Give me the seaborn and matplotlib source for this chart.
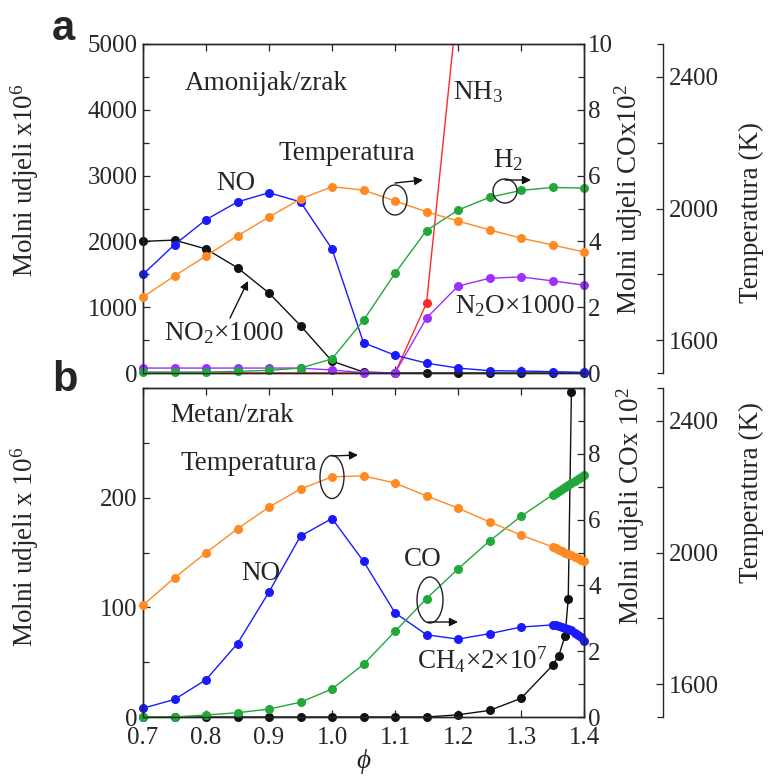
"""Ammonia/air vs methane/air flame: species and temperature vs equivalence ratio."""
import matplotlib.pyplot as plt
import matplotlib.ticker as mticker
from matplotlib.patches import Ellipse, FancyArrowPatch
import seaborn as sns

W, H = 768, 776

# ---- panel a: Amonijak/zrak ----
PHI_A = [0.70, 0.75, 0.80, 0.85, 0.90, 0.95, 1.00, 1.05, 1.10, 1.15, 1.20, 1.25, 1.30, 1.35, 1.40]
A_NO = [1500, 1950, 2330, 2600, 2740, 2600, 1885, 460, 270, 150, 75, 35, 30, 20, 10]
A_NO2 = [2000, 2020, 1885, 1600, 1215, 720, 180, 15, 0, 0, 0, 0, 0, 0, 0]
A_N2O = [75, 75, 75, 75, 75, 75, 45, 5, 0, 835, 1320, 1440, 1460, 1400, 1335]
A_NH3 = [0, 0, 0, 0, 0, 0, 0, 0, 0, 1060, 5700, 10000, 14000, 18000, 22000]
A_H2 = [0.03, 0.03, 0.03, 0.05, 0.08, 0.15, 0.43, 1.6, 3.03, 4.33, 4.95, 5.34, 5.55, 5.64, 5.62]
A_TEMP = [1731, 1795, 1856, 1917, 1974, 2029, 2066, 2056, 2023, 1990, 1962, 1935, 1910, 1889, 1868]

# ---- panel b: Metan/zrak ----
PHI_B = [0.70, 0.75, 0.80, 0.85, 0.90, 0.95, 1.00, 1.05, 1.10, 1.15, 1.20, 1.25, 1.30, 1.35,
         1.355, 1.36, 1.365, 1.37, 1.375, 1.38, 1.385, 1.39, 1.395, 1.40]
B_NO = [8, 16, 34, 67, 114, 165, 181, 142, 95, 75, 71, 76, 82, 84,
        84, 83, 82, 81, 80, 79, 77, 75, 73, 69]
B_CO = [0.0, 0.0, 0.06, 0.13, 0.24, 0.45, 0.85, 1.6, 2.6, 3.6, 4.5, 5.35, 6.1, 6.75,
        6.81, 6.87, 6.93, 6.99, 7.05, 7.11, 7.17, 7.23, 7.30, 7.36]
B_TEMP = [1840, 1923, 1999, 2072, 2138, 2193, 2230, 2233, 2211, 2172, 2135, 2093, 2053, 2017,
          2013, 2009, 2005, 2000, 1996, 1992, 1987, 1983, 1978, 1974]
PHI_B_CH4 = [0.70, 0.75, 0.80, 0.85, 0.90, 0.95, 1.00, 1.05, 1.10, 1.15, 1.20, 1.25, 1.30, 1.35,
             1.36, 1.37, 1.375, 1.38]
B_CH4 = [0, 0, 0, 0, 0, 0, 0, 0, 0, 0, 2, 6, 17, 47, 56, 74, 108, 296]

XTICKS = [0.7, 0.8, 0.9, 1.0, 1.1, 1.2, 1.3, 1.4]
A_YTICKS = [0, 1000, 2000, 3000, 4000, 5000]
B_YTICKS = [0, 100, 200]

BLUE, ORANGE, GREEN = "#1a1aff", "#ff8a22", "#22a83a"
PURPLE, RED, BLACK = "#9b30ff", "#ff2a2a", "#111111"

sns.set_theme(style="ticks")
plt.rcParams["font.family"] = ["Liberation Serif", "DejaVu Serif"]
plt.rcParams["mathtext.fontset"] = "custom"
plt.rcParams["mathtext.rm"] = "Liberation Serif"
plt.rcParams["mathtext.it"] = "Liberation Serif:italic"
plt.rcParams["axes.linewidth"] = 1.0

FS = 19.5
TFS = 18


def fxy(x, y):
    return x / W, 1 - y / H


def series(ax, x, y, color, clip=False):
    sns.lineplot(x=x, y=y, ax=ax, color=color, marker="o", markersize=6.5,
                 markeredgewidth=0, linewidth=1.0, legend=False, clip_on=clip)


def style_axes(ax, ymax, yticks, yminor, show_x):
    ax.set_xlim(0.7, 1.4)
    ax.set_ylim(0, ymax)
    ax.set_xticks(XTICKS)
    ax.xaxis.set_major_formatter(mticker.FormatStrFormatter("%.1f"))
    ax.set_yticks(yticks)
    ax.yaxis.set_minor_locator(mticker.MultipleLocator(yminor))
    ax.tick_params(which="both", direction="in", top=True, right=False, width=0.9,
                   labelsize=TFS, pad=4, labelbottom=show_x)
    ax.tick_params(axis="x", pad=7)
    ax.tick_params(which="major", length=5)
    ax.tick_params(which="minor", length=4)
    ax.set_xlabel("")


def co_axis(ax, show_ten):
    co = ax.twinx()
    co.set_ylim(0, 10)
    ticks = [0, 2, 4, 6, 8, 10] if show_ten else [0, 2, 4, 6, 8]
    co.set_yticks(ticks)
    co.yaxis.set_minor_locator(mticker.MultipleLocator(1))
    co.tick_params(which="both", direction="in", width=0.9, labelsize=TFS, pad=3)
    co.tick_params(which="major", length=5)
    co.tick_params(which="minor", length=4)
    return co


def temp_axis(ax):
    t = ax.twinx()
    t.spines["right"].set_position(("axes", 1.179))
    for side in ("left", "top", "bottom"):
        t.spines[side].set_visible(False)
    t.set_ylim(1500, 2500)
    t.set_yticks([1600, 2000, 2400])
    t.set_yticks([1500, 1800, 2200, 2500], minor=True)
    t.tick_params(which="both", direction="in", width=0.9, labelsize=TFS, pad=4)
    t.tick_params(which="major", length=5)
    t.tick_params(which="minor", length=4)
    return t


def ylabels(ax, co, t, left_txt, co_txt, pos):
    (lx, ly), (cx, cy), (tx, ty) = pos
    ax.set_ylabel(left_txt, fontsize=FS, va="center", ha="center", rotation_mode="anchor")
    ax.yaxis.set_label_coords(lx, ly)
    co.set_ylabel(co_txt, fontsize=FS, va="center", ha="center", rotation_mode="anchor")
    co.yaxis.set_label_coords(cx, cy)
    t.set_ylabel("Temperatura (K)", fontsize=FS, va="center", ha="center", rotation_mode="anchor")
    t.yaxis.set_label_coords(tx, ty)


def ftext(fig, x, y, s, ha="center", size=FS, **kw):
    fig.text(*fxy(x, y), s, ha=ha, va="center", fontsize=size, **kw)


def ellipse(fig, cx, cy, w, h):
    fig.add_artist(Ellipse(fxy(cx, cy), w / W, h / H, transform=fig.transFigure,
                           fill=False, edgecolor="#222222", linewidth=1.0))


def arrow(fig, x0, y0, x1, y1):
    fig.add_artist(FancyArrowPatch(
        fxy(x0, y0), fxy(x1, y1), transform=fig.transFigure,
        arrowstyle="-|>,head_length=5,head_width=2.5", color="#111111",
        linewidth=1.0, shrinkA=0, shrinkB=0))


fig = plt.figure(figsize=(W / 100, H / 100), dpi=100)
ax_a = fig.add_axes([143 / W, 1 - 373 / H, 441 / W, 329 / H])
ax_b = fig.add_axes([143 / W, 1 - 717 / H, 441 / W, 329 / H])

# panel a
co_a = co_axis(ax_a, True)
t_a = temp_axis(ax_a)
series(ax_a, PHI_A, A_NH3, RED, clip=True)
series(ax_a, PHI_A, A_NO2, BLACK)
series(ax_a, PHI_A, A_N2O, PURPLE)
series(ax_a, PHI_A, A_NO, BLUE)
series(co_a, PHI_A, A_H2, GREEN)
series(t_a, PHI_A, A_TEMP, ORANGE)
style_axes(ax_a, 5000, A_YTICKS, 500, False)
ylabels(ax_a, co_a, t_a, "Molni udjeli x10$^6$", "Molni udjeli COx10$^2$",
        [(-0.268, 0.587), (1.102, 0.526), (1.379, 0.489)])

# panel b
co_b = co_axis(ax_b, False)
t_b = temp_axis(ax_b)
series(ax_b, PHI_B_CH4, B_CH4, BLACK)
series(ax_b, PHI_B, B_NO, BLUE)
series(co_b, PHI_B, B_CO, GREEN)
series(t_b, PHI_B, B_TEMP, ORANGE)
style_axes(ax_b, 300, B_YTICKS, 50, True)
ax_b.set_xlabel("ϕ", fontsize=FS, style="italic", labelpad=0)
ylabels(ax_b, co_b, t_b, "Molni udjeli x 10$^6$", "Molni udjeli COx 10$^2$",
        [(-0.268, 0.517), (1.105, 0.641), (1.379, 0.681)])

# panel letters
ftext(fig, 63, 29, "a", size=30, family=["Liberation Sans", "DejaVu Sans"], weight="bold")
ftext(fig, 65, 380, "b", size=30, family=["Liberation Sans", "DejaVu Sans"], weight="bold")

# annotations, panel a
ftext(fig, 185, 84, "Amonijak/zrak", ha="left")
ftext(fig, 236, 184, "NO")
ftext(fig, 347, 153, "Temperatura")
ftext(fig, 508, 160, "H$_2$")
ftext(fig, 478, 92, "NH$_3$")
ftext(fig, 455, 306, "N$_2$O×1000", ha="left")
ftext(fig, 224, 333, "NO$_2$×1000")
arrow(fig, 230, 318, 248, 281)
ellipse(fig, 395, 200, 24, 30)
arrow(fig, 395, 183, 423, 180)
ellipse(fig, 505, 191, 24, 24)
arrow(fig, 505, 180, 531, 180)

# annotations, panel b
ftext(fig, 170, 416, "Metan/zrak", ha="left")
ftext(fig, 249, 464, "Temperatura")
ellipse(fig, 332, 477, 24, 43)
arrow(fig, 332, 456, 358, 455)
ftext(fig, 261, 573, "NO")
ftext(fig, 423, 560, "CO")
ellipse(fig, 430, 600, 26, 46)
arrow(fig, 428, 622, 458, 622)
ftext(fig, 417, 660, "CH$_4$×2×10$^7$", ha="left")

fig.savefig("out.png", dpi=100)
